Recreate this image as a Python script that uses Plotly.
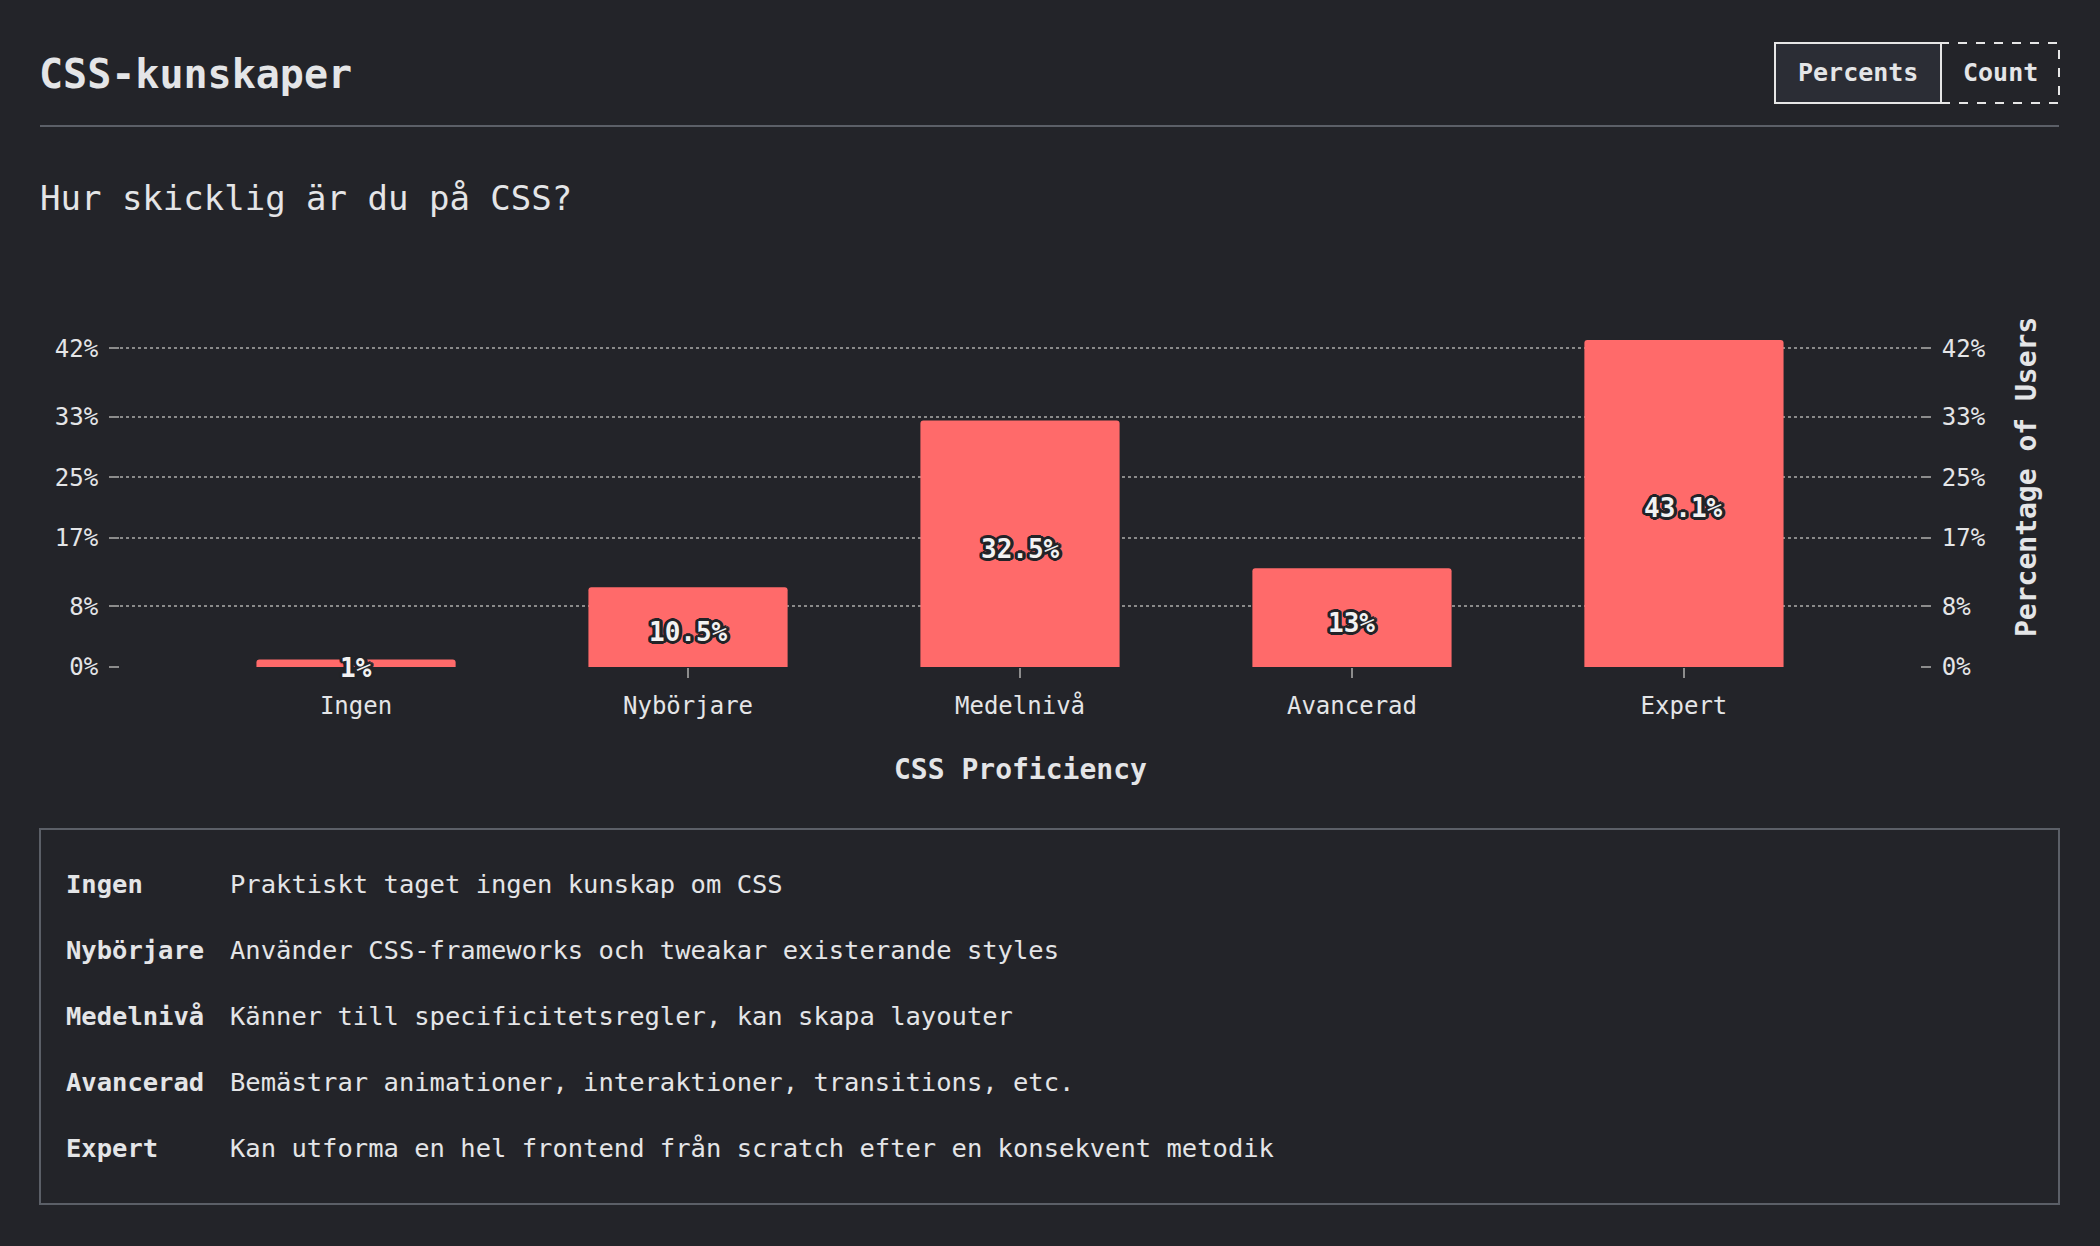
import plotly.graph_objects as go

# ---------------- data ----------------
categories = ["Ingen", "Nybörjare", "Medelnivå", "Avancerad", "Expert"]
percents = [1.0, 10.5, 32.5, 13.0, 43.1]
tick_values = [0, 8, 17, 25, 33, 42]
tick_labels = ["0%", "8%", "17%", "25%", "33%", "42%"]
descriptions = [
    "Praktiskt taget ingen kunskap om CSS",
    "Använder CSS-frameworks och tweakar existerande styles",
    "Känner till specificitetsregler, kan skapa layouter",
    "Bemästrar animationer, interaktioner, transitions, etc.",
    "Kan utforma en hel frontend från scratch efter en konsekvent metodik",
]
title_text = "CSS-kunskaper"
subtitle_text = "Hur skicklig är du på CSS?"
x_title = "CSS Proficiency"
y_title = "Percentage of Users"
button_labels = ["Percents", "Count"]

# ---------------- styling ----------------
W, H = 2100, 1246
BG = "#232429"
FG = "#e4e5e7"
BAR = "#ff6a6a"
TICK = "#8c8c8c"
GRID = "#8a8a8a"
BORDER = "#5b5f67"
FONT = "DejaVu Sans Mono"


def px(x):
    return x / W


def py(y):
    return 1 - y / H


label_texts = [f"{v:g}%" for v in percents]
label_y = [v / 2 for v in percents]

outline = ", ".join(
    f"{dx}px {dy}px 0 #222327"
    for dx, dy in [(2, 0), (-2, 0), (0, 2), (0, -2), (2, 2), (-2, 2), (2, -2), (-2, -2),
                   (3, 0), (-3, 0), (0, 3), (0, -3), (3, 1), (-3, 1), (3, -1), (-3, -1)]
)

fig = go.Figure()
fig.add_trace(go.Bar(
    x=categories, y=percents, width=0.6,
    marker=dict(color=BAR, line=dict(width=0), cornerradius=3),
    hoverinfo="skip", showlegend=False,
))
fig.add_trace(go.Scatter(
    x=categories, y=percents, yaxis="y2", mode="markers",
    marker=dict(opacity=0), hoverinfo="skip", showlegend=False,
))

x0, x1 = 120, 1920
y_bot, y_top = 667, 340

axis_common = dict(
    ticks="outside", ticklen=10, tickwidth=2, tickcolor=TICK,
    showline=False, zeroline=False, automargin=False,
)

fig.update_layout(
    width=W, height=H,
    margin=dict(l=0, r=0, t=0, b=0),
    paper_bgcolor=BG, plot_bgcolor=BG,
    template="none",
    font=dict(family=FONT, color=FG),
    xaxis=dict(
        domain=[px(x0), px(x1)], type="category", range=[-0.711, 4.711],
        showgrid=False, tickfont=dict(size=24, color=FG), ticklabelstandoff=7,
        fixedrange=True, **axis_common,
    ),
    yaxis=dict(
        domain=[py(y_bot), py(y_top)], range=[0, 43.1],
        tickvals=tick_values, ticktext=tick_labels,
        showgrid=True, gridcolor=GRID, gridwidth=1.5, griddash="dot",
        tickfont=dict(size=24, color=FG), ticklabelstandoff=6,
        fixedrange=True, **axis_common,
    ),
    yaxis2=dict(
        overlaying="y", side="right", anchor="x", range=[0, 43.1],
        tickvals=tick_values, ticktext=tick_labels, showgrid=False,
        tickfont=dict(size=24, color=FG), ticklabelstandoff=6,
        fixedrange=True, **axis_common,
    ),
)

shapes = [
    # header divider
    dict(type="line", xref="paper", yref="paper", x0=px(40), x1=px(2059), y0=py(126), y1=py(126),
         line=dict(color=BORDER, width=2)),
    # buttons
    dict(type="rect", xref="paper", yref="paper", x0=px(1775), x1=px(1941), y0=py(103), y1=py(43),
         fillcolor="#2b2d35", line=dict(color="#e6e6e6", width=2)),
    dict(type="rect", xref="paper", yref="paper", x0=px(1941), x1=px(2059), y0=py(103), y1=py(43),
         fillcolor="rgba(0,0,0,0)", line=dict(color="#e6e6e6", width=2, dash="dash")),
    # description box
    dict(type="rect", xref="paper", yref="paper", x0=px(40), x1=px(2059), y0=py(1204), y1=py(829),
         line=dict(color=BORDER, width=2)),
]

annotations = [
    dict(text=f"<b>{title_text}</b>", x=px(37), y=py(74), xanchor="left", yanchor="middle",
         font=dict(size=40, color=FG)),
    dict(text=subtitle_text, x=px(38), y=py(198), xanchor="left", yanchor="middle",
         font=dict(size=34, color=FG)),
    dict(text=f"<b>{button_labels[0]}</b>", x=px(1858), y=py(73), xanchor="center", yanchor="middle",
         font=dict(size=25, color=FG)),
    dict(text=f"<b>{button_labels[1]}</b>", x=px(2000), y=py(73), xanchor="center", yanchor="middle",
         font=dict(size=25, color=FG)),
    dict(text=f"<b>{x_title}</b>", x=px(1020), y=py(769), xanchor="center", yanchor="middle",
         font=dict(size=28, color=FG)),
    dict(text=f"<b>{y_title}</b>", x=px(2026), y=py(477), xanchor="center", yanchor="middle",
         textangle=-90, font=dict(size=28, color=FG)),
]
for a in annotations:
    a.update(xref="paper", yref="paper")

row_y = [884, 950, 1016, 1082, 1148]
for cat, desc, ry in zip(categories, descriptions, row_y):
    annotations.append(dict(text=f"<b>{cat}</b>", x=px(64), y=py(ry), xanchor="left", yanchor="middle",
                            xref="paper", yref="paper", font=dict(size=25.5, color=FG)))
    annotations.append(dict(text=desc, x=px(228), y=py(ry), xanchor="left", yanchor="middle",
                            xref="paper", yref="paper", font=dict(size=25.5, color=FG)))

# bar value labels, placed at the middle of each bar through the axes
for cat, ly, txt in zip(categories, label_y, label_texts):
    annotations.append(dict(
        text=f"<b>{txt}</b>", x=cat, y=ly, xref="x", yref="y",
        xanchor="center", yanchor="middle", yshift=-5,
        font=dict(size=26, color="#f2f2f2", shadow=outline),
    ))

for a in annotations:
    a.update(showarrow=False)

fig.update_layout(shapes=shapes, annotations=annotations)

fig.write_html("out.html", config={"displayModeBar": False})
